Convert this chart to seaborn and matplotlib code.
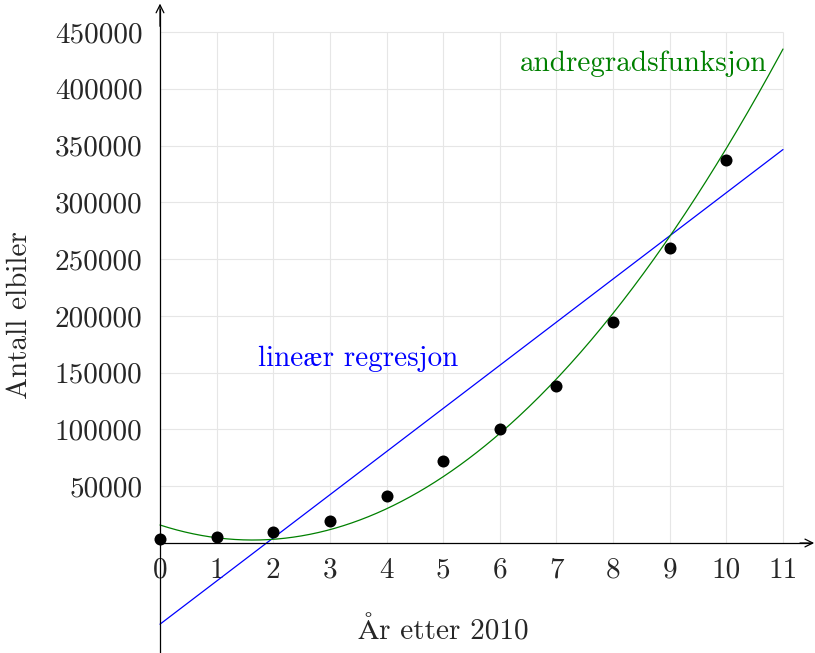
import numpy as np
import pandas as pd
import matplotlib
matplotlib.use("Agg")
import matplotlib.pyplot as plt
import seaborn as sns

# Antall elbiler i Norge, år etter 2010
years = [0, 1, 2, 3, 4, 5, 6, 7, 8, 9, 10]
cars = [3400, 5400, 9600, 19700, 41000, 72000, 100000, 138000, 195000, 260000, 337000]

# Modeller: lineær regresjon og andregradsfunksjon
lin_slope, lin_intercept = 38000, -71500
quad_a, quad_b, quad_c = 4933, -16158, 15850

x_ticks = list(range(0, 12))
y_ticks = list(range(50000, 450001, 50000))
y_tick_labels = [str(v) for v in y_ticks]

sns.set_style("white")
plt.rcParams["font.family"] = ["cmr10", "STIXGeneral", "DejaVu Serif"]
plt.rcParams["axes.unicode_minus"] = False
FS = 21

fig = plt.figure(figsize=(8.15, 6.53), dpi=100)
ax = fig.add_axes([0, 0, 1, 1])
ax.set_xlim(-2.825, 11.565)
ax.set_ylim(-96866, 478180)

# grid in the first quadrant only
ax.vlines(x_ticks[1:], 0, 450000, color="#e6e6e6", lw=0.8, zorder=0)
ax.hlines(y_ticks, 0, 11, color="#e6e6e6", lw=0.8, zorder=0)

xs = np.linspace(0, 11, 300)
curves = pd.DataFrame({
    "x": xs,
    "lin": lin_slope * xs + lin_intercept,
    "quad": quad_a * xs**2 + quad_b * xs + quad_c,
})
sns.lineplot(data=curves, x="x", y="lin", color="#0000ff", lw=0.9, ax=ax, zorder=2)
sns.lineplot(data=curves, x="x", y="quad", color="#008000", lw=0.9, ax=ax, zorder=2)

pts = pd.DataFrame({"år": years, "antall": cars})
sns.scatterplot(data=pts, x="år", y="antall", color="black", s=75,
                edgecolor="black", linewidth=0, ax=ax, zorder=3)

# axes through origin
for side in ("top", "right"):
    ax.spines[side].set_visible(False)
ax.spines["left"].set_position(("data", 0))
ax.spines["bottom"].set_position(("data", 0))
ax.spines["left"].set_bounds(-96866, 470000)
ax.spines["bottom"].set_bounds(0, 11.5)
for s in ("left", "bottom"):
    ax.spines[s].set_linewidth(0.9)
    ax.spines[s].set_color("black")
ax.annotate("", xy=(11.55, 0), xytext=(11.3, 0),
            arrowprops=dict(arrowstyle="->", lw=0.9, color="black",
                            shrinkA=0, shrinkB=0, mutation_scale=14))
ax.annotate("", xy=(0, 475000), xytext=(0, 455000),
            arrowprops=dict(arrowstyle="->", lw=0.9, color="black",
                            shrinkA=0, shrinkB=0, mutation_scale=14))

ax.set_xticks(x_ticks)
ax.set_xticklabels([str(v) for v in x_ticks], fontsize=FS)
ax.set_yticks(y_ticks)
ax.set_yticklabels(y_tick_labels, fontsize=FS)
ax.tick_params(axis="both", direction="inout", length=11, width=0.9, color="black")
ax.tick_params(axis="x", pad=5)
ax.tick_params(axis="y", pad=7)
ax.set_xlabel("")
ax.set_ylabel("")

ax.text(10.72, 421800, "andregradsfunksjon", color="#008000", fontsize=FS,
        ha="right", va="center")
ax.text(1.73, 162000, "lineær regresjon", color="#0000ff", fontsize=FS,
        ha="left", va="center")
ax.text(-2.47, 200800, "Antall elbiler", fontsize=FS, rotation=90,
        ha="center", va="center")
ax.text(5.0, -78400, "År etter 2010", fontsize=FS, ha="center", va="center")

fig.savefig("out.png", dpi=100)
